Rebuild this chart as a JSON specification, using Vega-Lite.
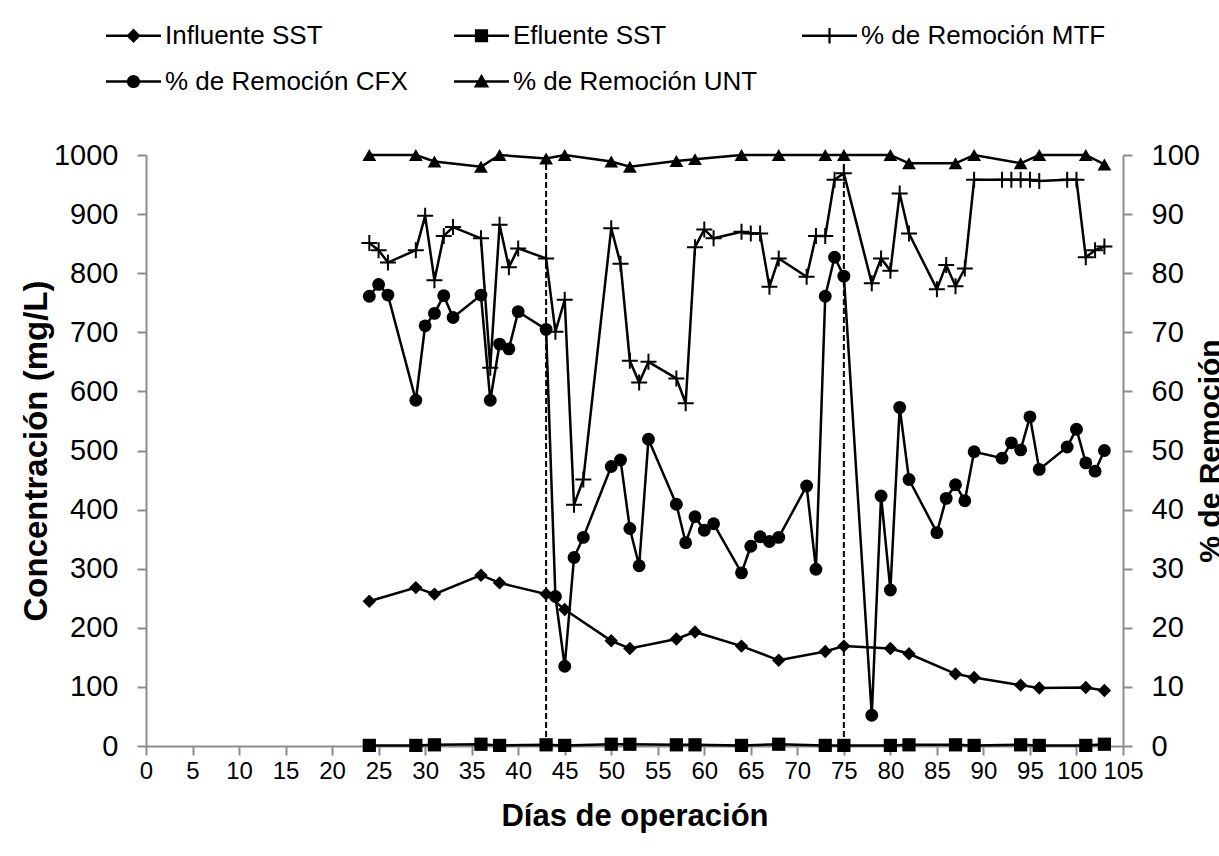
{
  "$schema": "https://vega.github.io/schema/vega-lite/v6.json",
  "width": 977,
  "height": 591,
  "autosize": {"type": "none"},
  "padding": {"left": 146, "top": 155, "right": 96, "bottom": 110},
  "background": "white",
  "config": {
    "view": {"stroke": null},
    "font": "Liberation Sans",
    "axis": {
      "grid": false,
      "domainColor": "#8c8c8c",
      "domainWidth": 2,
      "tickColor": "#8c8c8c",
      "tickWidth": 2,
      "tickSize": 9,
      "labelColor": "black",
      "titleColor": "black",
      "labelFont": "Liberation Sans",
      "titleFont": "Liberation Sans",
      "titleFontWeight": "bold",
      "titleFontSize": 30,
      "labelOverlap": false,
      "labelFlush": false
    }
  },
  "datasets": {
    "sst": [
      {"s": "Influente SST", "d": 24, "v": 245}, {"s": "Influente SST", "d": 29, "v": 268}, {"s": "Influente SST", "d": 31, "v": 257},
      {"s": "Influente SST", "d": 36, "v": 289}, {"s": "Influente SST", "d": 38, "v": 276}, {"s": "Influente SST", "d": 43, "v": 257},
      {"s": "Influente SST", "d": 45, "v": 231}, {"s": "Influente SST", "d": 50, "v": 178}, {"s": "Influente SST", "d": 52, "v": 165},
      {"s": "Influente SST", "d": 57, "v": 181}, {"s": "Influente SST", "d": 59, "v": 193}, {"s": "Influente SST", "d": 64, "v": 169},
      {"s": "Influente SST", "d": 68, "v": 145}, {"s": "Influente SST", "d": 73, "v": 160}, {"s": "Influente SST", "d": 75, "v": 169},
      {"s": "Influente SST", "d": 80, "v": 165}, {"s": "Influente SST", "d": 82, "v": 156}, {"s": "Influente SST", "d": 87, "v": 122},
      {"s": "Influente SST", "d": 89, "v": 116}, {"s": "Influente SST", "d": 94, "v": 103}, {"s": "Influente SST", "d": 96, "v": 98},
      {"s": "Influente SST", "d": 101, "v": 99}, {"s": "Influente SST", "d": 103, "v": 94},
      {"s": "Efluente SST", "d": 24, "v": 1}, {"s": "Efluente SST", "d": 29, "v": 1}, {"s": "Efluente SST", "d": 31, "v": 2},
      {"s": "Efluente SST", "d": 36, "v": 3}, {"s": "Efluente SST", "d": 38, "v": 1}, {"s": "Efluente SST", "d": 43, "v": 2},
      {"s": "Efluente SST", "d": 45, "v": 1}, {"s": "Efluente SST", "d": 50, "v": 3}, {"s": "Efluente SST", "d": 52, "v": 3},
      {"s": "Efluente SST", "d": 57, "v": 2}, {"s": "Efluente SST", "d": 59, "v": 2}, {"s": "Efluente SST", "d": 64, "v": 1},
      {"s": "Efluente SST", "d": 68, "v": 3}, {"s": "Efluente SST", "d": 73, "v": 1}, {"s": "Efluente SST", "d": 75, "v": 1},
      {"s": "Efluente SST", "d": 80, "v": 1}, {"s": "Efluente SST", "d": 82, "v": 2}, {"s": "Efluente SST", "d": 87, "v": 2},
      {"s": "Efluente SST", "d": 89, "v": 1}, {"s": "Efluente SST", "d": 94, "v": 2}, {"s": "Efluente SST", "d": 96, "v": 1},
      {"s": "Efluente SST", "d": 101, "v": 1}, {"s": "Efluente SST", "d": 103, "v": 3}
    ],
    "rem": [
      {"s": "MTF", "d": 24, "v": 85.1}, {"s": "MTF", "d": 25, "v": 83.9}, {"s": "MTF", "d": 26, "v": 81.8}, {"s": "MTF", "d": 29, "v": 83.9},
      {"s": "MTF", "d": 30, "v": 89.7}, {"s": "MTF", "d": 31, "v": 78.8}, {"s": "MTF", "d": 32, "v": 86.3}, {"s": "MTF", "d": 33, "v": 87.8},
      {"s": "MTF", "d": 36, "v": 85.9}, {"s": "MTF", "d": 37, "v": 64.0}, {"s": "MTF", "d": 38, "v": 88.2}, {"s": "MTF", "d": 39, "v": 81.0},
      {"s": "MTF", "d": 40, "v": 84.2}, {"s": "MTF", "d": 43, "v": 82.5}, {"s": "MTF", "d": 44, "v": 70.1}, {"s": "MTF", "d": 45, "v": 75.5},
      {"s": "MTF", "d": 46, "v": 40.8}, {"s": "MTF", "d": 47, "v": 45.1}, {"s": "MTF", "d": 50, "v": 87.6}, {"s": "MTF", "d": 51, "v": 81.6},
      {"s": "MTF", "d": 52, "v": 65.2}, {"s": "MTF", "d": 53, "v": 61.5}, {"s": "MTF", "d": 54, "v": 65.0}, {"s": "MTF", "d": 57, "v": 62.2},
      {"s": "MTF", "d": 58, "v": 58.0}, {"s": "MTF", "d": 59, "v": 84.4}, {"s": "MTF", "d": 60, "v": 87.4}, {"s": "MTF", "d": 61, "v": 85.9},
      {"s": "MTF", "d": 64, "v": 87.0}, {"s": "MTF", "d": 65, "v": 86.7}, {"s": "MTF", "d": 66, "v": 86.7}, {"s": "MTF", "d": 67, "v": 77.7},
      {"s": "MTF", "d": 68, "v": 82.5}, {"s": "MTF", "d": 71, "v": 79.4}, {"s": "MTF", "d": 72, "v": 86.3}, {"s": "MTF", "d": 73, "v": 86.3},
      {"s": "MTF", "d": 74, "v": 95.8}, {"s": "MTF", "d": 75, "v": 96.9}, {"s": "MTF", "d": 78, "v": 78.3}, {"s": "MTF", "d": 79, "v": 82.5},
      {"s": "MTF", "d": 80, "v": 80.4}, {"s": "MTF", "d": 81, "v": 93.5}, {"s": "MTF", "d": 82, "v": 86.7}, {"s": "MTF", "d": 85, "v": 77.3},
      {"s": "MTF", "d": 86, "v": 81.4}, {"s": "MTF", "d": 87, "v": 77.8}, {"s": "MTF", "d": 88, "v": 80.8}, {"s": "MTF", "d": 89, "v": 95.8},
      {"s": "MTF", "d": 92, "v": 95.8}, {"s": "MTF", "d": 93, "v": 95.8}, {"s": "MTF", "d": 94, "v": 95.8}, {"s": "MTF", "d": 95, "v": 95.8},
      {"s": "MTF", "d": 96, "v": 95.6}, {"s": "MTF", "d": 99, "v": 95.8}, {"s": "MTF", "d": 100, "v": 95.8}, {"s": "MTF", "d": 101, "v": 82.7},
      {"s": "MTF", "d": 102, "v": 83.9}, {"s": "MTF", "d": 103, "v": 84.5},
      {"s": "CFX", "d": 24, "v": 76.1}, {"s": "CFX", "d": 25, "v": 78.1}, {"s": "CFX", "d": 26, "v": 76.3}, {"s": "CFX", "d": 29, "v": 58.5},
      {"s": "CFX", "d": 30, "v": 71.1}, {"s": "CFX", "d": 31, "v": 73.2}, {"s": "CFX", "d": 32, "v": 76.2}, {"s": "CFX", "d": 33, "v": 72.5},
      {"s": "CFX", "d": 36, "v": 76.3}, {"s": "CFX", "d": 37, "v": 58.5}, {"s": "CFX", "d": 38, "v": 68.0}, {"s": "CFX", "d": 39, "v": 67.2},
      {"s": "CFX", "d": 40, "v": 73.5}, {"s": "CFX", "d": 43, "v": 70.5}, {"s": "CFX", "d": 44, "v": 25.3}, {"s": "CFX", "d": 45, "v": 13.5},
      {"s": "CFX", "d": 46, "v": 31.9}, {"s": "CFX", "d": 47, "v": 35.3}, {"s": "CFX", "d": 50, "v": 47.3}, {"s": "CFX", "d": 51, "v": 48.4},
      {"s": "CFX", "d": 52, "v": 36.8}, {"s": "CFX", "d": 53, "v": 30.5}, {"s": "CFX", "d": 54, "v": 51.9}, {"s": "CFX", "d": 57, "v": 40.9},
      {"s": "CFX", "d": 58, "v": 34.4}, {"s": "CFX", "d": 59, "v": 38.8}, {"s": "CFX", "d": 60, "v": 36.5}, {"s": "CFX", "d": 61, "v": 37.6},
      {"s": "CFX", "d": 64, "v": 29.3}, {"s": "CFX", "d": 65, "v": 33.8}, {"s": "CFX", "d": 66, "v": 35.4}, {"s": "CFX", "d": 67, "v": 34.6},
      {"s": "CFX", "d": 68, "v": 35.3}, {"s": "CFX", "d": 71, "v": 44.0}, {"s": "CFX", "d": 72, "v": 29.9}, {"s": "CFX", "d": 73, "v": 76.1},
      {"s": "CFX", "d": 74, "v": 82.7}, {"s": "CFX", "d": 75, "v": 79.5}, {"s": "CFX", "d": 78, "v": 5.2}, {"s": "CFX", "d": 79, "v": 42.3},
      {"s": "CFX", "d": 80, "v": 26.4}, {"s": "CFX", "d": 81, "v": 57.3}, {"s": "CFX", "d": 82, "v": 45.1}, {"s": "CFX", "d": 85, "v": 36.1},
      {"s": "CFX", "d": 86, "v": 41.9}, {"s": "CFX", "d": 87, "v": 44.2}, {"s": "CFX", "d": 88, "v": 41.5}, {"s": "CFX", "d": 89, "v": 49.8},
      {"s": "CFX", "d": 92, "v": 48.7}, {"s": "CFX", "d": 93, "v": 51.3}, {"s": "CFX", "d": 94, "v": 50.1}, {"s": "CFX", "d": 95, "v": 55.7},
      {"s": "CFX", "d": 96, "v": 46.8}, {"s": "CFX", "d": 99, "v": 50.6}, {"s": "CFX", "d": 100, "v": 53.6}, {"s": "CFX", "d": 101, "v": 47.9},
      {"s": "CFX", "d": 102, "v": 46.5}, {"s": "CFX", "d": 103, "v": 50.0},
      {"s": "UNT", "d": 24, "v": 100}, {"s": "UNT", "d": 29, "v": 100}, {"s": "UNT", "d": 31, "v": 98.9}, {"s": "UNT", "d": 36, "v": 98.0},
      {"s": "UNT", "d": 38, "v": 100}, {"s": "UNT", "d": 43, "v": 99.4}, {"s": "UNT", "d": 45, "v": 100}, {"s": "UNT", "d": 50, "v": 98.9},
      {"s": "UNT", "d": 52, "v": 98.0}, {"s": "UNT", "d": 57, "v": 99.0}, {"s": "UNT", "d": 59, "v": 99.3}, {"s": "UNT", "d": 64, "v": 100},
      {"s": "UNT", "d": 68, "v": 100}, {"s": "UNT", "d": 73, "v": 100}, {"s": "UNT", "d": 75, "v": 100}, {"s": "UNT", "d": 80, "v": 100},
      {"s": "UNT", "d": 82, "v": 98.6}, {"s": "UNT", "d": 87, "v": 98.6}, {"s": "UNT", "d": 89, "v": 100}, {"s": "UNT", "d": 94, "v": 98.6},
      {"s": "UNT", "d": 96, "v": 100}, {"s": "UNT", "d": 101, "v": 100}, {"s": "UNT", "d": 103, "v": 98.4}
    ],
    "events": [{"d": 43}, {"d": 75}],
    "leg": [
      {"s": "Influente SST"}, {"s": "Efluente SST"}, {"s": "% de Remoción MTF"}, {"s": "% de Remoción CFX"}, {"s": "% de Remoción UNT"}
    ]
  },
  "layer": [
    {
      "data": {"name": "sst"},
      "encoding": {
        "x": {
          "field": "d", "type": "quantitative",
          "scale": {"domain": [0, 105], "nice": false, "zero": false},
          "axis": {
            "title": "Días de operación",
            "values": [0, 5, 10, 15, 20, 25, 30, 35, 40, 45, 50, 55, 60, 65, 70, 75, 80, 85, 90, 95, 100, 105],
            "labelFontSize": 24, "labelPadding": 4, "titleFontSize": 31, "titlePadding": 18
          }
        }
      },
      "layer": [
        {
          "mark": {"type": "line", "color": "black", "strokeWidth": 2.5},
          "encoding": {
            "detail": {"field": "s"},
            "y": {
              "field": "v", "type": "quantitative",
              "scale": {"domain": [0, 1000], "nice": false},
              "axis": {
                "orient": "left", "title": "Concentración (mg/L)", "format": "d",
                "values": [0, 100, 200, 300, 400, 500, 600, 700, 800, 900, 1000],
                "labelFontSize": 29, "labelPadding": 19, "titlePadding": 0, "titleFontSize": 33
              }
            }
          }
        },
        {
          "transform": [{"filter": "datum.s === 'Influente SST'"}],
          "mark": {"type": "point", "shape": "diamond", "filled": true, "color": "black", "size": 180, "opacity": 1},
          "encoding": {"y": {"field": "v", "type": "quantitative"}}
        },
        {
          "transform": [{"filter": "datum.s === 'Efluente SST'"}],
          "mark": {"type": "point", "shape": "square", "filled": true, "color": "black", "size": 175, "opacity": 1},
          "encoding": {"y": {"field": "v", "type": "quantitative"}}
        },
        {
          "data": {"name": "events"},
          "mark": {"type": "rule", "color": "black", "strokeWidth": 2, "strokeDash": [6, 3]},
          "encoding": {"y": {"datum": 0}, "y2": {"datum": 1000}}
        }
      ]
    },
    {
      "data": {"name": "rem"},
      "encoding": {
        "x": {
          "field": "d", "type": "quantitative",
          "scale": {"domain": [0, 105], "nice": false, "zero": false},
          "axis": {
            "title": "Días de operación",
            "values": [0, 5, 10, 15, 20, 25, 30, 35, 40, 45, 50, 55, 60, 65, 70, 75, 80, 85, 90, 95, 100, 105],
            "labelFontSize": 24, "labelPadding": 4, "titleFontSize": 31, "titlePadding": 18
          }
        }
      },
      "layer": [
        {
          "mark": {"type": "line", "color": "black", "strokeWidth": 2.5},
          "encoding": {
            "detail": {"field": "s"},
            "y": {
              "field": "v", "type": "quantitative",
              "scale": {"domain": [0, 100], "nice": false},
              "axis": {
                "orient": "right", "title": "% de Remoción", "format": "d",
                "values": [0, 10, 20, 30, 40, 50, 60, 70, 80, 90, 100],
                "labelFontSize": 29, "labelPadding": 19,
                "titleAngle": 270, "titleBaseline": "top", "titlePadding": -4
              }
            }
          }
        },
        {
          "transform": [{"filter": "datum.s === 'MTF'"}],
          "mark": {"type": "point", "shape": "M-1,0H1M0,-1V1", "filled": false, "color": "black", "strokeWidth": 2, "size": 256, "opacity": 1},
          "encoding": {"y": {"field": "v", "type": "quantitative"}}
        },
        {
          "transform": [{"filter": "datum.s === 'CFX'"}],
          "mark": {"type": "point", "shape": "circle", "filled": true, "color": "black", "size": 165, "opacity": 1},
          "encoding": {"y": {"field": "v", "type": "quantitative"}}
        },
        {
          "transform": [{"filter": "datum.s === 'UNT'"}],
          "mark": {"type": "point", "shape": "triangle-up", "filled": true, "color": "black", "size": 190, "opacity": 1},
          "encoding": {"y": {"field": "v", "type": "quantitative"}}
        }
      ]
    },
    {
      "data": {"name": "leg"},
      "mark": {"type": "point", "filled": true, "color": "black", "opacity": 0},
      "encoding": {
        "shape": {
          "field": "s", "type": "nominal",
          "scale": {
            "domain": ["Influente SST", "% de Remoción CFX", "Efluente SST", "% de Remoción UNT", "% de Remoción MTF"],
            "range": [
              "M-1,-0.045H1V0.045H-1ZM0,-0.26L0.26,0L0,0.26L-0.26,0Z",
              "M-1,-0.045H1V0.045H-1ZM0.24,0A0.24,0.24 0 1,1 -0.24,0A0.24,0.24 0 1,1 0.24,0Z",
              "M-1,-0.045H1V0.045H-1ZM-0.24,-0.24H0.24V0.24H-0.24Z",
              "M-1,-0.045H1V0.045H-1ZM0,-0.28L0.28,0.22L-0.28,0.22Z",
              "M-1,-0.045H1V0.045H-1ZM-0.04,-0.28H0.04V0.28H-0.04Z"
            ]
          },
          "legend": {
            "orient": "none", "legendX": -40, "legendY": -147,
            "columns": 3, "title": null, "padding": 0,
            "labelFont": "Liberation Sans", "labelFontSize": 26, "labelColor": "black", "labelLimit": 400,
            "symbolSize": 3025, "symbolFillColor": "black", "symbolStrokeColor": "black", "symbolStrokeWidth": 0, "symbolOpacity": 1,
            "labelOffset": 4, "columnPadding": 44, "rowPadding": 5, "gridAlign": "all"
          }
        }
      }
    }
  ],
  "resolve": {"scale": {"y": "independent"}}
}
